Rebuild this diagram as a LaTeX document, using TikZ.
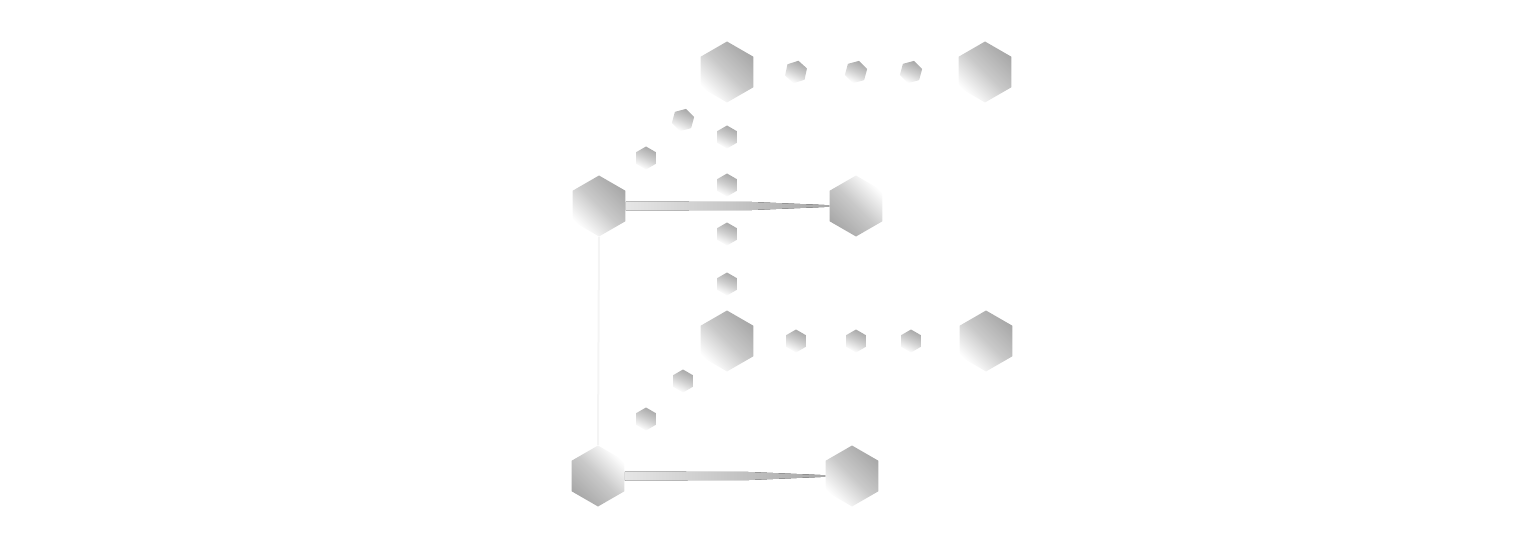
\documentclass[tikz,border=0pt]{standalone}
\usepackage{xcolor}
\usetikzlibrary{shapes.geometric,calc}
\definecolor{hexgray}{HTML}{A8A8A8}
\definecolor{barlight}{HTML}{E6E6E6}
\definecolor{barrule}{HTML}{F4F4F4}
\begin{document}
\begin{tikzpicture}[x=0.2mm, y=-0.2mm,
  hexbig/.style={regular polygon, regular polygon sides=6, minimum size=12.2mm, inner sep=0pt, shape border rotate=30,
    top color=hexgray, bottom color=white, middle color=hexgray!62!white, shading angle=-45},
  hexflip/.style={hexbig, shading angle=135},
  hexsmall/.style={regular polygon, regular polygon sides=6, minimum size=4.6mm, inner sep=0pt,
    top color=hexgray, bottom color=white, middle color=hexgray!55!white, shading angle=-25},
  bar/.style={left color=barlight, right color=hexgray},
  rung/.style={draw=barrule, line width=0.4mm}]
  \useasboundingbox (0,0) rectangle (1530,558);
  % ---------- large hexagons ----------
  \foreach \n/\x/\y in {a1/727/72, a2/985/72, b1/599/206, c1/727/341, c2/986/341, d2/852/476}
    { \node[hexbig] (\n) at (\x,\y) {}; }
  \foreach \n/\x/\y in {b2/856/206, d1/598/476}
    { \node[hexflip] (\n) at (\x,\y) {}; }
  % ---------- small hexagons ----------
  \foreach \n/\x/\y/\r in {t1/796/72/18, t2/856/72/15, t3/911/72/15, u1/683/120/15, u2/646/158/30,
      v1/727/137/30, v2/727/185/30, v3/727/234/30, v4/727/284/30,
      m1/796/341/30, m2/856/341/30, m3/911/341/30, w1/683/381/30, w2/646/419/30}
    { \node[hexsmall, shape border rotate=\r] (\n) at (\x,\y) {}; }
  % ---------- bonds ----------
  \draw[rung] (b1.south) -- (d1.north);
  \fill[bar] ($(b1.east)+(0,-4.5)$) -- ($(b1.east)!0.62!(b2.west)+(0,-4)$) -- ($(b2.west)+(0,-0.8)$)
    -- ($(b2.west)+(0,0.8)$) -- ($(b1.east)!0.62!(b2.west)+(0,4)$) -- ($(b1.east)+(0,4.5)$) -- cycle;
  \fill[bar] ($(d1.east)+(0,-4.5)$) -- ($(d1.east)!0.62!(d2.west)+(0,-4)$) -- ($(d2.west)+(0,-0.8)$)
    -- ($(d2.west)+(0,0.8)$) -- ($(d1.east)!0.62!(d2.west)+(0,4)$) -- ($(d1.east)+(0,4.5)$) -- cycle;
\end{tikzpicture}
\end{document}
